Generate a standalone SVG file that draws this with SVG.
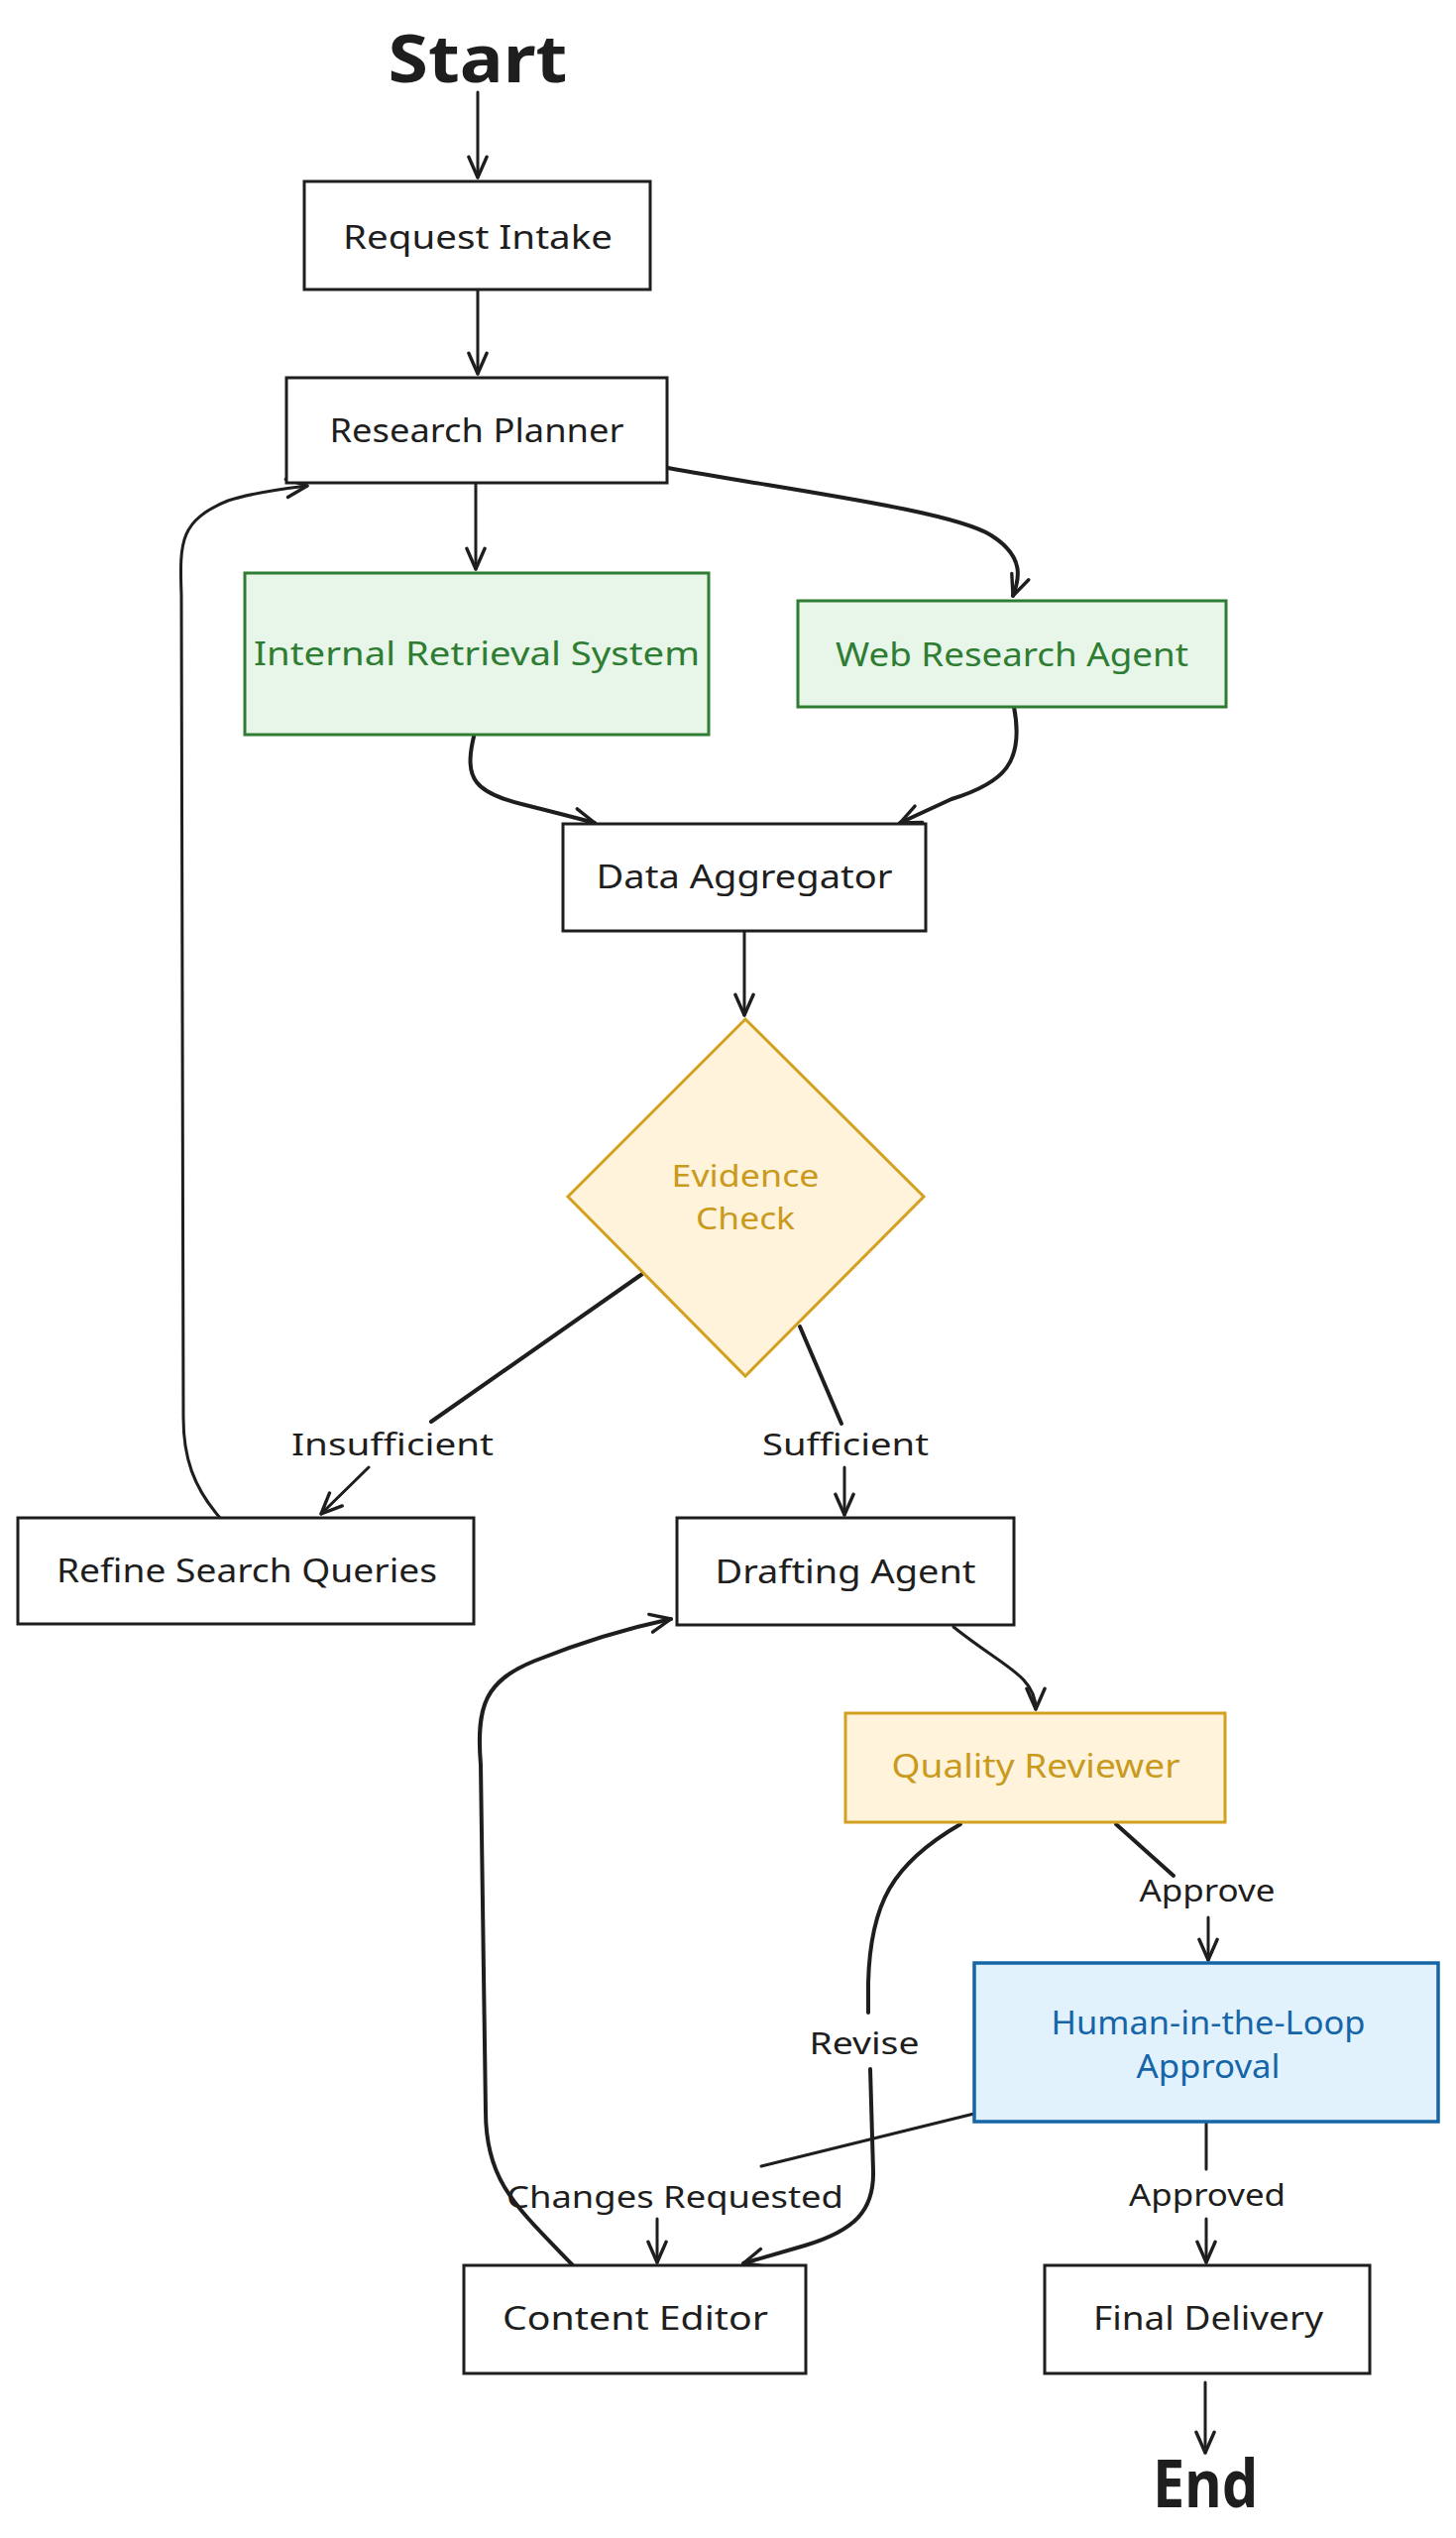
<svg xmlns="http://www.w3.org/2000/svg" width="1469" height="2560" viewBox="0 0 1469 2560">
<defs>
<style>
.bg{fill:#ffffff}
.box{fill:#ffffff;stroke:#1e1e1e;stroke-width:3}
.green{fill:#e8f5e9;stroke:#2e7d32;stroke-width:3}
.gold{fill:#fff3dc;stroke:#d4a020;stroke-width:3}
.blue{fill:#e1f2fd;stroke:#1565a8;stroke-width:3.5}
text{font-family:"Noto Sans","DejaVu Sans",sans-serif;text-anchor:middle;dominant-baseline:central;fill:#1e1e1e}
.t{font-size:33px}
.lbl{font-size:31px}
.big{font-size:66px;font-weight:bold}
.tg{fill:#2e7d32}
.ty{fill:#c99a1c}
.tb{fill:#1565a8}
.edge{fill:none;stroke:#1e1e1e;stroke-width:3;stroke-linecap:round;stroke-linejoin:round}
.thick{stroke-width:4}
</style>
<marker id="arr" markerUnits="userSpaceOnUse" markerWidth="26" markerHeight="26" viewBox="0 0 20 20" refX="18" refY="10" orient="auto">
<path d="M2,3 L18,10 L2,17" fill="none" stroke="#1e1e1e" stroke-width="2.6" stroke-linecap="round" stroke-linejoin="round"/>
</marker>
</defs>
<rect class="bg" x="0" y="0" width="1469" height="2560"/>

<g id="connectors">
<path class="edge" d="M482,93 L482,179" marker-end="url(#arr)"/>
<path class="edge" d="M482,293 L482,377" marker-end="url(#arr)"/>
<path class="edge" d="M480,487 L480,574" marker-end="url(#arr)"/>
<path class="edge thick" d="M674,472 C 800,495 960,515 1000,540 C 1035,562 1028,585 1022,601" marker-end="url(#arr)"/>
<path class="edge thick" d="M478,743 C 468,785 478,800 530,812 Q 570,822 600,830" marker-end="url(#arr)"/>
<path class="edge thick" d="M1023,713 C 1034,770 1012,790 960,806 L908,830" marker-end="url(#arr)"/>
<path class="edge" d="M751,939 L751,1024" marker-end="url(#arr)"/>
<path class="edge thick" d="M648,1285 L435,1434"/>
<path class="edge" d="M372,1480 L324,1527" marker-end="url(#arr)"/>
<path class="edge thick" d="M807,1338 L849,1436"/>
<path class="edge" d="M852,1480 L852,1528" marker-end="url(#arr)"/>
<path class="edge" d="M222,1531 C 195,1500 185,1470 185,1430 L183,600 C 181,545 182,525 230,505 C 255,497 285,493 310,490" marker-end="url(#arr)"/>
<path class="edge" d="M962,1641 C 1010,1680 1045,1690 1045,1724" marker-end="url(#arr)"/>
<path class="edge thick" d="M1126,1840 L1184,1892"/>
<path class="edge" d="M1219,1934 L1219,1977" marker-end="url(#arr)"/>
<path class="edge thick" d="M969,1840 C 900,1880 878,1920 876,2000 L876,2030"/>
<path class="edge thick" d="M878,2087 L881,2190 C 882,2230 862,2250 812,2265 L750,2283" marker-end="url(#arr)"/>
<path class="edge" d="M991,2130 L768,2185"/>
<path class="edge" d="M663,2238 L663,2282" marker-end="url(#arr)"/>
<path class="edge thick" d="M578,2285 C 520,2225 490,2200 490,2130 L485,1780 C 480,1720 490,1695 540,1675 C 590,1655 630,1643 677,1633" marker-end="url(#arr)"/>
<path class="edge" d="M1217,2141 L1217,2188"/>
<path class="edge" d="M1217,2238 L1217,2282" marker-end="url(#arr)"/>
<path class="edge" d="M1216,2403 L1216,2474" marker-end="url(#arr)"/>
<text class="lbl" x="396" y="1456" textLength="204" lengthAdjust="spacingAndGlyphs">Insufficient</text>
<text class="lbl" x="853" y="1456" textLength="168" lengthAdjust="spacingAndGlyphs">Sufficient</text>
<text class="lbl" x="1218" y="1906" textLength="137" lengthAdjust="spacingAndGlyphs">Approve</text>
<text class="lbl" x="872" y="2060" textLength="111" lengthAdjust="spacingAndGlyphs">Revise</text>
<text class="lbl" x="681" y="2215" textLength="340" lengthAdjust="spacingAndGlyphs">Changes Requested</text>
<text class="lbl" x="1218" y="2213" textLength="158" lengthAdjust="spacingAndGlyphs">Approved</text>
</g>

<g id="start"><text class="big" x="482" y="57" textLength="181" lengthAdjust="spacingAndGlyphs">Start</text></g>
<g id="request_intake"><rect class="box" x="307" y="183" width="349" height="109"/><text class="t" x="482" y="238" textLength="272" lengthAdjust="spacingAndGlyphs">Request Intake</text></g>
<g id="research_planner"><rect class="box" x="289" y="381" width="384" height="106"/><text class="t" x="481" y="433" textLength="297" lengthAdjust="spacingAndGlyphs">Research Planner</text></g>
<g id="internal_retrieval"><rect class="green" x="247" y="578" width="468" height="163"/><text class="t tg" x="481" y="658" textLength="450" lengthAdjust="spacingAndGlyphs">Internal Retrieval System</text></g>
<g id="web_research"><rect class="green" x="805" y="606" width="432" height="107"/><text class="t tg" x="1021" y="659" textLength="356" lengthAdjust="spacingAndGlyphs">Web Research Agent</text></g>
<g id="data_aggregator"><rect class="box" x="568" y="831" width="366" height="108"/><text class="t" x="751" y="883" textLength="299" lengthAdjust="spacingAndGlyphs">Data Aggregator</text></g>
<g id="evidence_check"><polygon class="gold" points="752,1028 932,1207 752,1388 573,1207"/><text class="lbl ty" x="752" y="1185" textLength="149" lengthAdjust="spacingAndGlyphs">Evidence</text><text class="lbl ty" x="752" y="1228" textLength="100" lengthAdjust="spacingAndGlyphs">Check</text></g>
<g id="refine_search"><rect class="box" x="18" y="1531" width="460" height="107"/><text class="t" x="249" y="1583" textLength="384" lengthAdjust="spacingAndGlyphs">Refine Search Queries</text></g>
<g id="drafting_agent"><rect class="box" x="683" y="1531" width="340" height="108"/><text class="t" x="853" y="1584" textLength="263" lengthAdjust="spacingAndGlyphs">Drafting Agent</text></g>
<g id="quality_reviewer"><rect class="gold" x="853" y="1728" width="383" height="110"/><text class="t ty" x="1045" y="1780" textLength="291" lengthAdjust="spacingAndGlyphs">Quality Reviewer</text></g>
<g id="human_approval"><rect class="blue" x="983" y="1980" width="468" height="160"/><text class="t tb" x="1219" y="2039" textLength="317" lengthAdjust="spacingAndGlyphs">Human-in-the-Loop</text><text class="t tb" x="1219" y="2083" textLength="145" lengthAdjust="spacingAndGlyphs">Approval</text></g>
<g id="content_editor"><rect class="box" x="468" y="2285" width="345" height="109"/><text class="t" x="641" y="2337" textLength="268" lengthAdjust="spacingAndGlyphs">Content Editor</text></g>
<g id="final_delivery"><rect class="box" x="1054" y="2285" width="328" height="109"/><text class="t" x="1219" y="2337" textLength="232" lengthAdjust="spacingAndGlyphs">Final Delivery</text></g>
<g id="end"><text class="big" x="1216" y="2503" textLength="106" lengthAdjust="spacingAndGlyphs">End</text></g>
</svg>
